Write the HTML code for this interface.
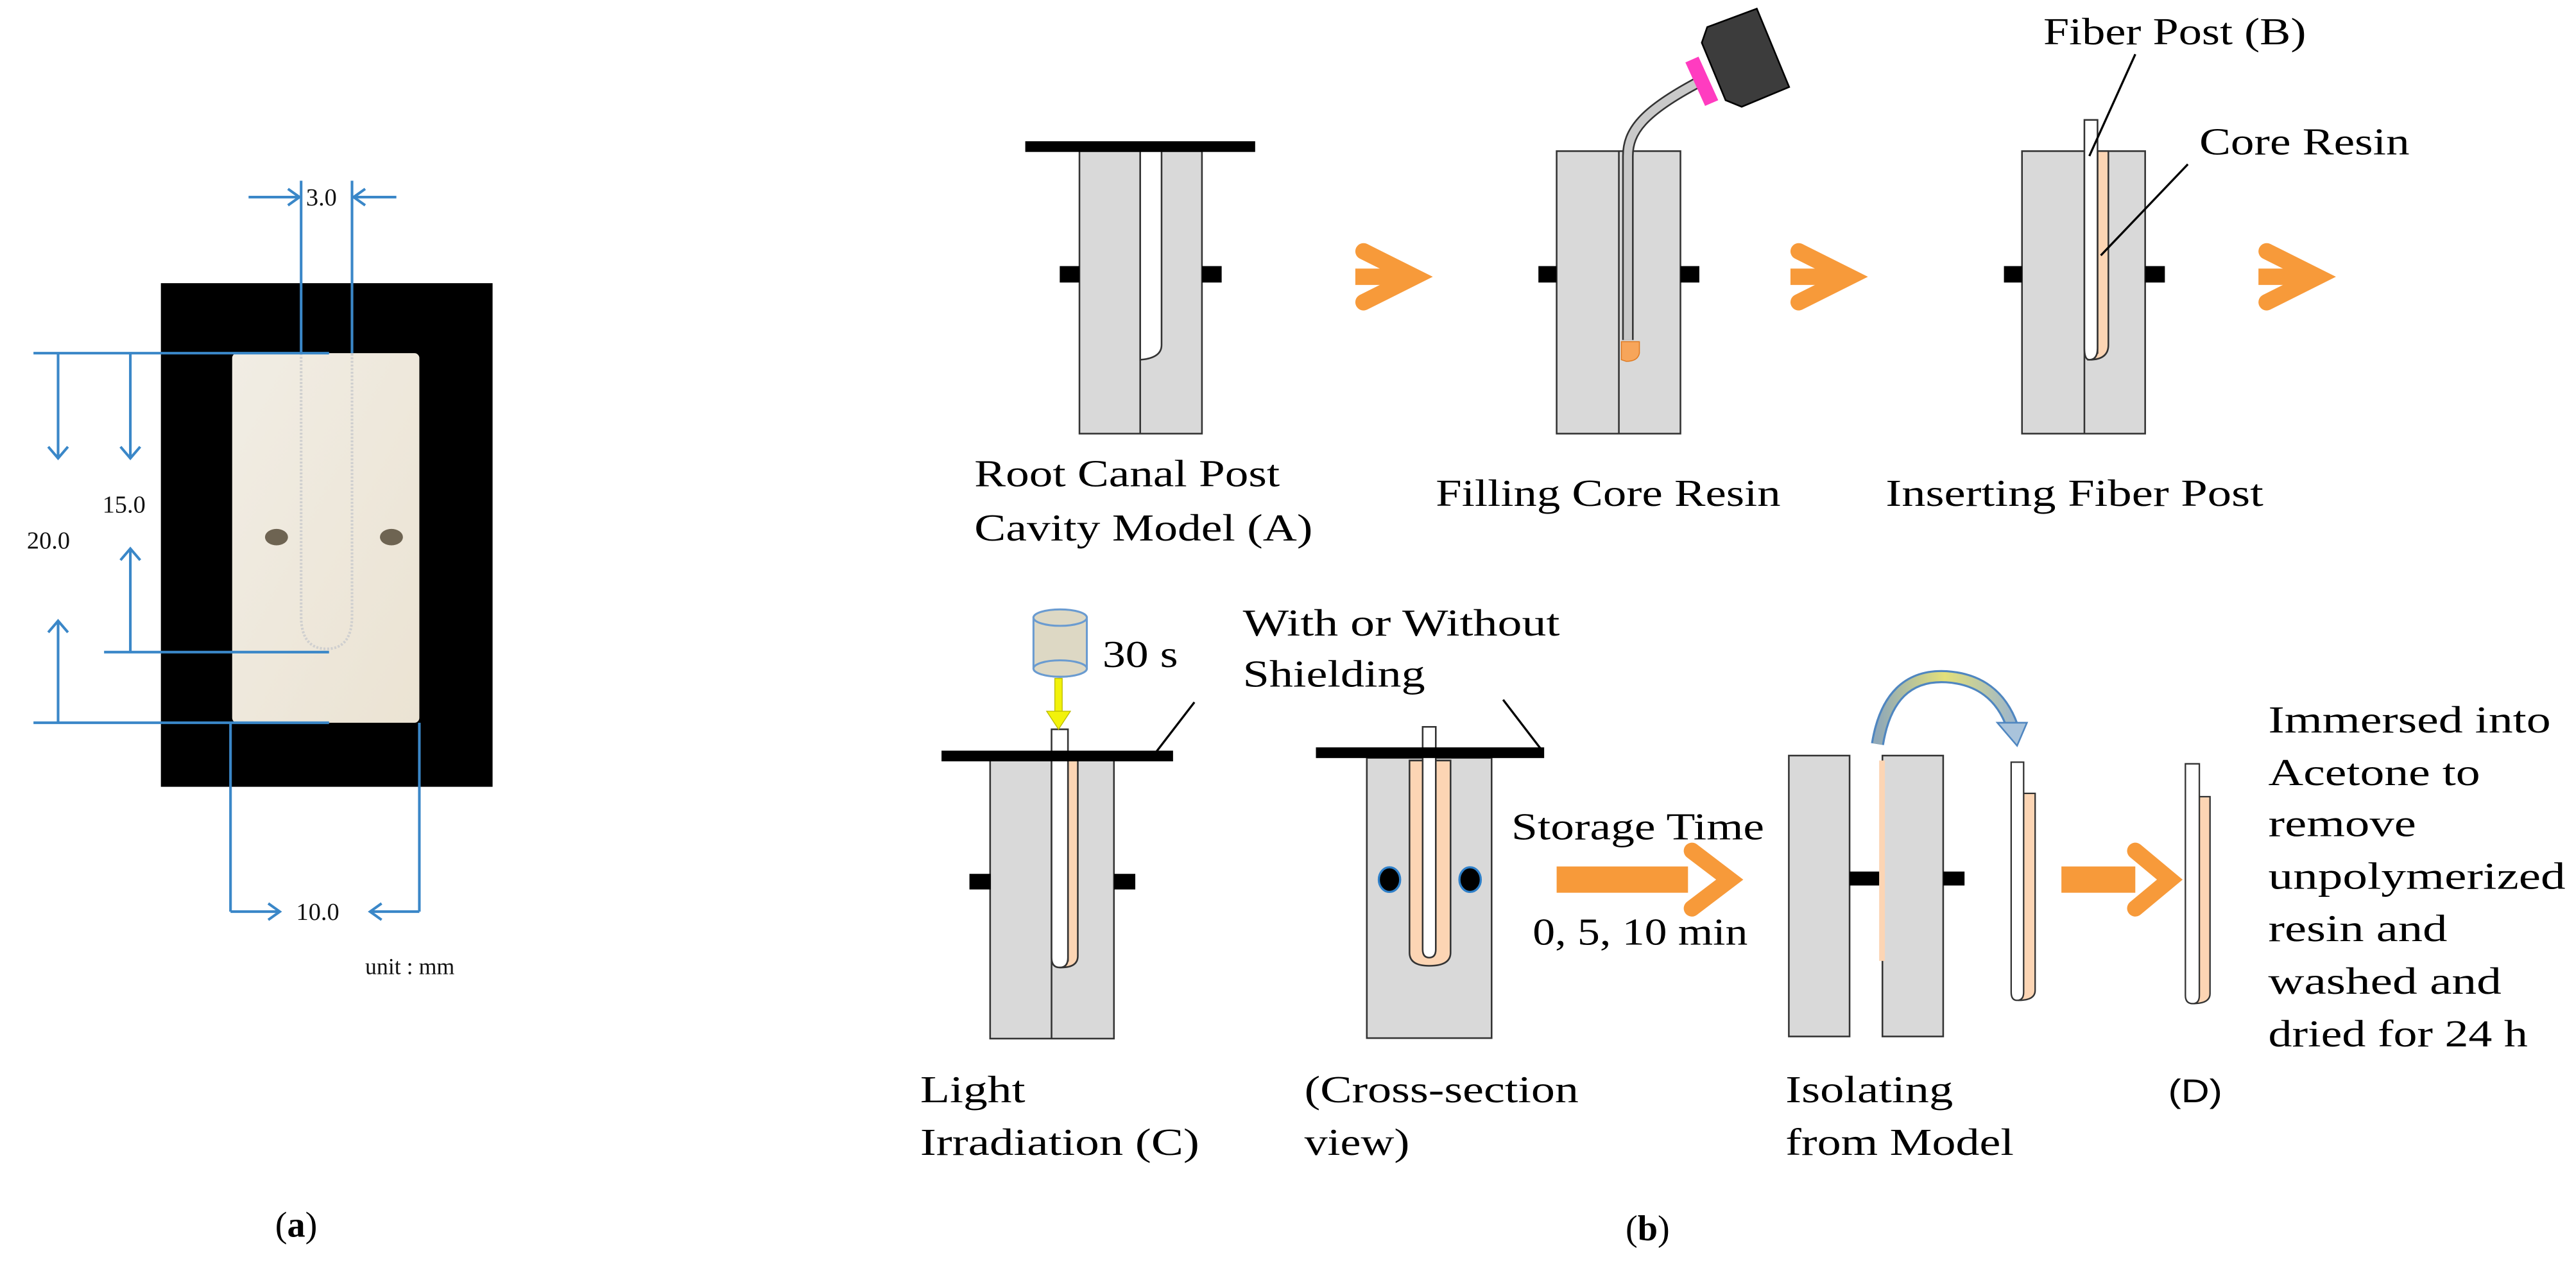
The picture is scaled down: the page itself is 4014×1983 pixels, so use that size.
<!DOCTYPE html>
<html><head><meta charset="utf-8"><style>html,body{margin:0;padding:0;background:#fff}svg{display:block}</style></head>
<body>
<svg width="4014" height="1983" viewBox="0 0 1568 775" xmlns="http://www.w3.org/2000/svg" font-family="'Liberation Serif', serif">
<defs>
<linearGradient id="wb" x1="0" y1="0" x2="1" y2="1"><stop offset="0" stop-color="#f1ede4"/><stop offset="1" stop-color="#ebe3d3"/></linearGradient>
<linearGradient id="ca" x1="0" y1="0" x2="1" y2="0"><stop offset="0" stop-color="#8fa8b8"/><stop offset="0.5" stop-color="#e3e07a"/><stop offset="1" stop-color="#9fb7c9"/></linearGradient>
</defs>
<!-- Panel a -->
<rect x="97.6" y="172.4" width="202" height="306.6" fill="#000"/>
<rect x="141" y="215" width="114" height="225" rx="3" fill="url(#wb)"/>
<path d="M183,215 L183,375 Q183,395 198.5,395 Q214,395 214,375 L214,215" fill="none" stroke="#cfcfcf" stroke-width="1.6" stroke-dasharray="1.2,1"/>
<ellipse cx="168" cy="327" rx="7" ry="5" fill="#6e6452"/><ellipse cx="238" cy="327" rx="7" ry="5" fill="#6e6452"/>
<g stroke="#3a87c8" stroke-width="1.6" fill="none">
<line x1="20" y1="215" x2="200" y2="215"/><line x1="63" y1="397" x2="200" y2="397"/><line x1="20" y1="440" x2="200" y2="440"/>
<line x1="35" y1="215" x2="35" y2="279"/><polyline points="29,272 35,279 41,272"/>
<line x1="79" y1="215" x2="79" y2="279"/><polyline points="73,272 79,279 85,272"/>
<line x1="79" y1="397" x2="79" y2="334"/><polyline points="73,341 79,334 85,341"/>
<line x1="35" y1="440" x2="35" y2="378"/><polyline points="29,385 35,378 41,385"/>
<line x1="183" y1="110" x2="183" y2="215"/><line x1="214" y1="110" x2="214" y2="215"/>
<line x1="151" y1="120" x2="182" y2="120"/><polyline points="175,115 182,120 175,125"/>
<line x1="241" y1="120" x2="215" y2="120"/><polyline points="222,115 215,120 222,125"/>
<line x1="140" y1="440" x2="140" y2="555"/><line x1="255" y1="440" x2="255" y2="555"/>
<line x1="140" y1="555" x2="170" y2="555"/><polyline points="163,550 170,555 163,560"/>
<line x1="255" y1="555" x2="225" y2="555"/><polyline points="232,550 225,555 232,560"/>
</g>
<g font-size="15" fill="#111">
<text x="186" y="125">3.0</text>
<text x="62" y="312">15.0</text>
<text x="16" y="334">20.0</text>
<text x="180" y="560">10.0</text>
<text x="222" y="593" font-size="14">unit : mm</text>
</g>
<text x="180" y="753" font-size="22" text-anchor="middle">(<tspan font-weight="bold">a</tspan>)</text>
<text x="1003" y="755" font-size="22" text-anchor="middle">(<tspan font-weight="bold">b</tspan>)</text>

<!-- Block 1 -->
<g stroke="#333" stroke-width="1">
<rect x="657" y="92" width="74.6" height="172" fill="#d9d9d9"/>
<line x1="694" y1="92" x2="694" y2="264"/>
<path d="M694,92 L707,92 L707,210 Q707,218 694,219 Z" fill="#fff"/>
</g>
<rect x="624" y="86" width="140" height="6.5" fill="#000"/>
<rect x="645" y="162" width="12" height="10" fill="#000"/><rect x="731.6" y="162" width="12" height="10" fill="#000"/>
<!-- Block 2 -->
<g stroke="#333" stroke-width="1">
<rect x="947.6" y="92" width="75.4" height="172" fill="#d9d9d9"/>
<line x1="985.5" y1="92" x2="985.5" y2="264"/>
</g>
<rect x="936.5" y="162" width="11" height="10" fill="#000"/><rect x="1023" y="162" width="11.5" height="10" fill="#000"/>
<path d="M991,207 L991,95 C991,80 1000,68 1034,50" fill="none" stroke="#333" stroke-width="7"/>
<path d="M991,207 L991,95 C991,80 1000,68 1034,50" fill="none" stroke="#c9c9c9" stroke-width="5"/>
<path d="M987,208 L998,208 L998,215 Q997,220 990,220 L987,219 Z" fill="#f7a55a" stroke="#e07a20" stroke-width="0.6"/>
<polygon points="1039.3,16.5 1069.5,5.3 1089.2,53 1060.3,65 1050.5,61 1036,26" fill="#3c3c3c" stroke="#000" stroke-width="1"/>
<polygon points="1026,38 1034,34.5 1046,61 1038,64.5" fill="#ff3cc0"/>
<!-- Block 3 -->
<g stroke="#333" stroke-width="1">
<rect x="1231" y="92" width="75" height="172" fill="#d9d9d9"/>
<line x1="1269" y1="92" x2="1269" y2="264"/>
<path d="M1277,92 L1283.6,92 L1283.6,210 Q1283.6,219 1272,219 L1277,215 Z" fill="#fcd5b4"/>
<path d="M1269,73 L1277,73 L1277,212 Q1277,219 1272,219 Q1269,219 1269,212 Z" fill="#fff"/>
</g>
<rect x="1220" y="162" width="11" height="10" fill="#000"/><rect x="1306" y="162" width="12" height="10" fill="#000"/>
<line x1="1300" y1="33" x2="1272" y2="95" stroke="#000" stroke-width="1.3"/>
<line x1="1332" y1="100" x2="1279" y2="155.5" stroke="#000" stroke-width="1.3"/>
<!-- chevrons -->
<g stroke="#f79a3a" stroke-width="10" stroke-linecap="round" stroke-linejoin="miter" fill="none">
<polyline points="830,153 861,168.5 830,184"/><line x1="825" y1="168.5" x2="850" y2="168.5" stroke-linecap="butt"/>
<polyline points="1095,153 1126,168.5 1095,184"/><line x1="1090" y1="168.5" x2="1115" y2="168.5" stroke-linecap="butt"/>
<polyline points="1380,153 1411,168.5 1380,184"/><line x1="1375" y1="168.5" x2="1400" y2="168.5" stroke-linecap="butt"/>
</g>
<!-- top labels -->
<g font-size="23" fill="#000" lengthAdjust="spacingAndGlyphs">
<text x="593" y="296" textLength="186" lengthAdjust="spacingAndGlyphs">Root Canal Post</text>
<text x="593" y="329" textLength="206" lengthAdjust="spacingAndGlyphs">Cavity Model (A)</text>
<text x="874" y="308" textLength="210" lengthAdjust="spacingAndGlyphs">Filling Core Resin</text>
<text x="1148" y="308" textLength="230" lengthAdjust="spacingAndGlyphs">Inserting Fiber Post</text>
<text x="1244" y="27" textLength="160" lengthAdjust="spacingAndGlyphs">Fiber Post (B)</text>
<text x="1339" y="94" textLength="128" lengthAdjust="spacingAndGlyphs">Core Resin</text>
</g>

<!-- Bottom: block C -->
<g stroke="#333" stroke-width="1">
<rect x="602.6" y="463" width="75.4" height="169.3" fill="#d9d9d9"/>
<line x1="640" y1="463" x2="640" y2="632.3"/>
<path d="M650,463 L656,463 L656,582 Q656,589 646,589 L650,585 Z" fill="#fcd5b4"/>
<path d="M640,444 L650,444 L650,583 Q650,589 645,589 Q640,589 640,583 Z" fill="#fff"/>
</g>
<rect x="573" y="457" width="141" height="6.5" fill="#000"/>
<rect x="590" y="532" width="13" height="9.5" fill="#000"/><rect x="678" y="532" width="13" height="9.5" fill="#000"/>
<path d="M629,376 L629,407 A16.25,5 0 0 0 661.5,407 L661.5,376 Z" fill="#ddd8c4" stroke="#6a9bd0" stroke-width="1.2"/>
<ellipse cx="645.25" cy="376" rx="16.25" ry="5" fill="#ddd8c4" stroke="#6a9bd0" stroke-width="1.2"/>
<ellipse cx="645.25" cy="407" rx="16.25" ry="5" fill="#ddd8c4" stroke="#6a9bd0" stroke-width="1.2"/>
<rect x="642" y="413" width="4.5" height="22" fill="#f2f20a" stroke="#b8b800" stroke-width="0.5"/>
<polygon points="637,433 651.5,433 644.25,444" fill="#f2f20a" stroke="#b8b800" stroke-width="0.5"/>
<line x1="727" y1="427.5" x2="704" y2="457.4" stroke="#000" stroke-width="1.3"/>
<!-- cross-section -->
<g stroke="#333" stroke-width="1">
<rect x="832" y="461.4" width="76" height="170.6" fill="#d9d9d9"/>
<path d="M858,463 L858,580 Q858,588 870,588 Q883,588 883,580 L883,463 Z" fill="#fcd5b4"/>
<path d="M866,442.5 L874,442.5 L874,578 Q874,583 870,583 Q866,583 866,578 Z" fill="#fff"/>
</g>
<rect x="801" y="455" width="139" height="6.5" fill="#000"/>
<ellipse cx="845.8" cy="535.5" rx="6.5" ry="7.5" fill="#000" stroke="#2e7fc8" stroke-width="1.3"/>
<ellipse cx="894.9" cy="535.5" rx="6.5" ry="7.5" fill="#000" stroke="#2e7fc8" stroke-width="1.3"/>
<line x1="915" y1="426" x2="938" y2="456" stroke="#000" stroke-width="1.3"/>
<!-- storage arrow -->
<rect x="947.6" y="527.5" width="80" height="16" fill="#f79a3a"/>
<polyline points="1030,518 1053,535.5 1030,553" fill="none" stroke="#f79a3a" stroke-width="10" stroke-linecap="round"/>
<!-- isolating -->
<g stroke="#333" stroke-width="1">
<rect x="1089" y="460" width="37" height="171" fill="#d9d9d9"/>
<rect x="1146" y="460" width="37" height="171" fill="#d9d9d9"/>
</g>
<rect x="1144" y="463" width="3.5" height="122" fill="#fcd5b4"/>
<rect x="1126" y="530.6" width="18" height="8.5" fill="#000"/><rect x="1183" y="530.6" width="13" height="8.5" fill="#000"/>
<path d="M1143,453 Q1150,410 1185,412 Q1215,414 1225,442" fill="none" stroke="#4f86c0" stroke-width="8"/>
<path d="M1143,453 Q1150,410 1185,412 Q1215,414 1225,442" fill="none" stroke="url(#ca)" stroke-width="5.5"/>
<polygon points="1216,440 1234,440 1228,454" fill="#a9c3db" stroke="#4f86c0" stroke-width="1"/>
<g stroke="#333" stroke-width="0.9">
<path d="M1232,483 L1239,483 L1239,603 Q1239,609 1229,609 Z" fill="#fcd5b4"/>
<path d="M1224.4,464 L1232,464 L1232,604 Q1232,609 1228,609 Q1224.4,609 1224.4,604 Z" fill="#fff"/>
<path d="M1339,485 L1345.5,485 L1345.5,605 Q1345.5,611 1335,611 Z" fill="#fcd5b4"/>
<path d="M1330.5,465 L1339,465 L1339,606 Q1339,611 1335,611 Q1330.5,611 1330.5,606 Z" fill="#fff"/>
</g>
<rect x="1255" y="527.5" width="45" height="16" fill="#f79a3a"/>
<polyline points="1300,518 1321,535.5 1300,553" fill="none" stroke="#f79a3a" stroke-width="10" stroke-linecap="round"/>
<!-- bottom labels -->
<g font-size="23" fill="#000">
<text x="671" y="406" textLength="46" lengthAdjust="spacingAndGlyphs">30 s</text>
<text x="756.5" y="387" textLength="193" lengthAdjust="spacingAndGlyphs">With or Without</text>
<text x="756.5" y="418" textLength="111" lengthAdjust="spacingAndGlyphs">Shielding</text>
<text x="560" y="671" textLength="64" lengthAdjust="spacingAndGlyphs">Light</text>
<text x="560" y="703" textLength="170" lengthAdjust="spacingAndGlyphs">Irradiation (C)</text>
<text x="794" y="671" textLength="167" lengthAdjust="spacingAndGlyphs">(Cross-section</text>
<text x="794" y="703" textLength="64" lengthAdjust="spacingAndGlyphs">view)</text>
<text x="920" y="511" textLength="154" lengthAdjust="spacingAndGlyphs">Storage Time</text>
<text x="933" y="575" textLength="131" lengthAdjust="spacingAndGlyphs">0, 5, 10 min</text>
<text x="1087" y="671" textLength="102" lengthAdjust="spacingAndGlyphs">Isolating</text>
<text x="1087" y="703" textLength="139" lengthAdjust="spacingAndGlyphs">from Model</text>
<text x="1320" y="671" font-family="'Liberation Sans', sans-serif" font-size="20" textLength="33" lengthAdjust="spacingAndGlyphs">(D)</text>
<text x="1381" y="446" textLength="172" lengthAdjust="spacingAndGlyphs">Immersed into</text>
<text x="1381" y="478" textLength="129" lengthAdjust="spacingAndGlyphs">Acetone to</text>
<text x="1381" y="509" textLength="90" lengthAdjust="spacingAndGlyphs">remove</text>
<text x="1381" y="541" textLength="181" lengthAdjust="spacingAndGlyphs">unpolymerized</text>
<text x="1381" y="573" textLength="109" lengthAdjust="spacingAndGlyphs">resin and</text>
<text x="1381" y="605" textLength="142" lengthAdjust="spacingAndGlyphs">washed and</text>
<text x="1381" y="637" textLength="158" lengthAdjust="spacingAndGlyphs">dried for 24 h</text>
</g>
</svg>
</body></html>
